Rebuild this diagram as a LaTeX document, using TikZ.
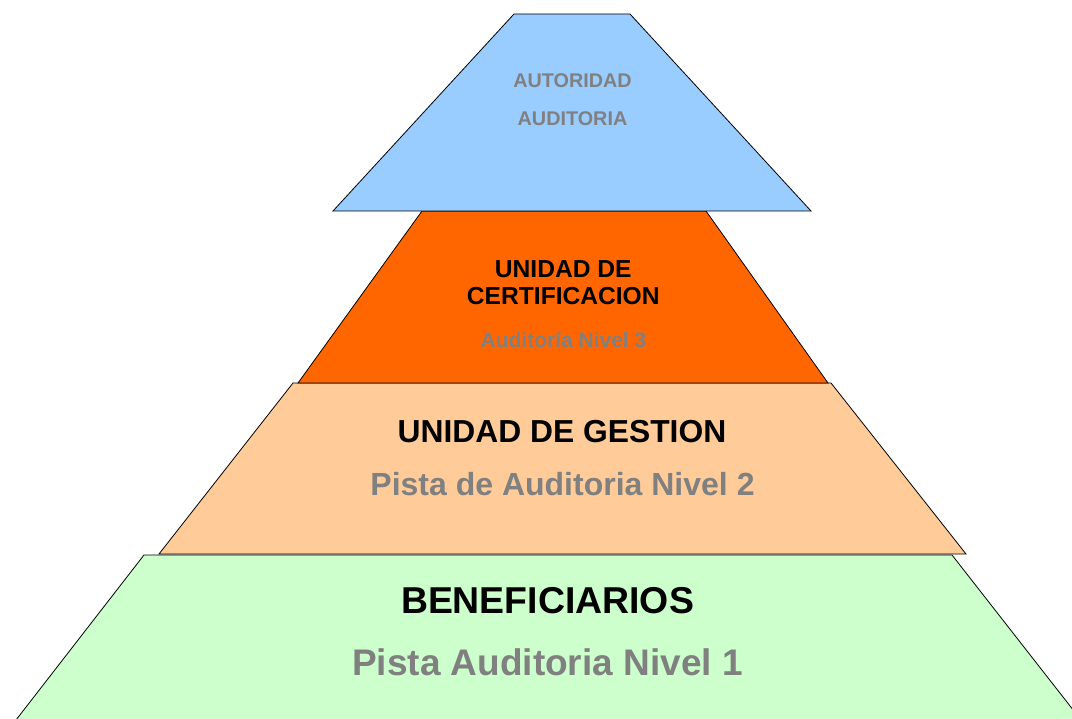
\documentclass[tikz,border=0pt]{standalone}
\usepackage{fontspec}
\setmainfont{Liberation Sans}
\definecolor{tierblue}{HTML}{99CCFF}
\definecolor{tierorange}{HTML}{FF6600}
\definecolor{tierpeach}{HTML}{FFCC99}
\definecolor{tiergreen}{HTML}{CCFFCC}
\definecolor{txtgray}{HTML}{808080}
\tikzset{
  tier/.style={draw=black, line width=0.8pt, line join=miter},
  lbl/.style={anchor=base, inner sep=0pt, font=\bfseries},
}
\begin{document}
\begin{tikzpicture}[x=1pt,y=-1pt]
\clip (0,0) rectangle (1072,719);
\fill[white] (0,0) rectangle (1072,719);
% tiers
\filldraw[tier, fill=tiergreen] (144,555) -- (952,555) -- (1081,720) -- (16,720) -- cycle;
\filldraw[tier, fill=tierpeach] (293,383) -- (831,383) -- (966,554) -- (159,554) -- cycle;
\filldraw[tier, fill=tierorange] (422,211) -- (706,211) -- (828,383) -- (298,383) -- cycle;
\filldraw[tier, fill=tierblue] (514,14) -- (630,14) -- (811,211) -- (333,211) -- cycle;
% texts
\node[lbl, text=txtgray, font=\bfseries\fontsize{19.8}{22}\selectfont] (t1) at (572.5,87.3) {AUTORIDAD};
\node[lbl, text=txtgray, font=\bfseries\fontsize{19.8}{22}\selectfont] (t2) at (572.5,126) {AUDITORIA};
\node[lbl, text=black, font=\bfseries\fontsize{24.6}{27}\selectfont] (o1) at (563.3,277.3) {UNIDAD DE};
\node[lbl, text=black, font=\bfseries\fontsize{24.6}{27}\selectfont] (o2) at (563.3,305) {CERTIFICACION};
\node[lbl, text=txtgray, font=\bfseries\fontsize{21}{24}\selectfont] (o3) at (563.5,347.3) {Auditoría Nivel 3};
\node[lbl, text=black, font=\bfseries\fontsize{31.8}{35}\selectfont] (p1) at (562,442.3) {UNIDAD DE GESTION};
\node[lbl, text=txtgray, font=\bfseries\fontsize{32}{35}\selectfont] (p2) at (562.5,495) {Pista de Auditoria Nivel 2};
\node[lbl, text=black, font=\bfseries\fontsize{37.4}{41}\selectfont] (g1) at (547.5,613.3) {BENEFICIARIOS};
\node[lbl, text=txtgray, font=\bfseries\fontsize{37}{40}\selectfont] (g2) at (547.5,675) {Pista Auditoria Nivel 1};
\end{tikzpicture}
\end{document}
